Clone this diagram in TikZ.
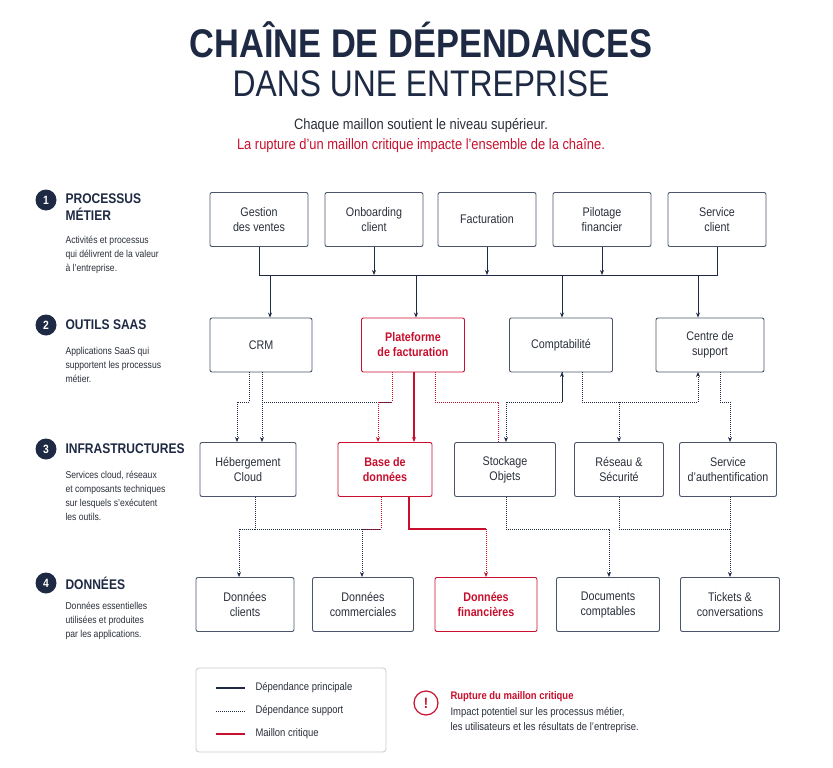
\documentclass[tikz,border=0pt]{standalone}
\usepackage{fontspec}
\setmainfont{Liberation Sans}[FakeStretch=0.86]
\usetikzlibrary{arrows.meta}
\definecolor{navy}{HTML}{1E2A44}
\definecolor{crit}{HTML}{C8102E}
\definecolor{txt}{HTML}{2A2F3A}
\begin{document}
\begin{tikzpicture}[x=1pt,y=-1pt,
 box/.style={draw=navy!80,line width=0.9pt,rounded corners=2pt,minimum width=98pt,minimum height=54pt,align=center,font=\fontsize{12.5}{15}\selectfont,text=txt},
 cbox/.style={box,draw=crit,text=crit,font=\fontsize{12.5}{15}\selectfont\bfseries},
 main/.style={draw=navy,line width=0.8pt},
 sup/.style={draw=navy,line width=1pt,densely dotted},
 csup/.style={draw=crit,line width=1pt,densely dotted},
 crl/.style={draw=crit,line width=1.3pt},
 arr/.style={-{Stealth[length=5pt,width=4pt]}},
 num/.style={circle,fill=navy,text=white,minimum size=21pt,inner sep=0pt,font=\fontsize{12}{12}\selectfont\bfseries},
 head/.style={anchor=west,text=navy,font=\fontsize{14}{17}\selectfont\bfseries,align=left},
 desc/.style={anchor=north west,text=txt,font=\fontsize{10}{14}\selectfont,align=left}]
\useasboundingbox (0,0) rectangle (833,768);
\fill[white] (0,0) rectangle (833,768);
% titles
\node[text=navy,font=\fontsize{40}{40}\selectfont\bfseries] (t1) at (421,40) {CHAÎNE DE DÉPENDANCES};
\node[text=navy,font=\fontsize{37}{37}\selectfont] (t2) at (421,84) {DANS UNE ENTREPRISE};
\node[text=txt,font=\fontsize{15}{15}\selectfont] (s1) at (421,126) {Chaque maillon soutient le niveau supérieur.};
\node[text=crit,font=\fontsize{15}{15}\selectfont] (s2) at (421,146) {La rupture d’un maillon critique impacte l’ensemble de la chaîne.};
% left column
\node[num] (n1) at (46,200) {1};
\node[head,anchor=north west] (h1) at (62,190) {PROCESSUS\\MÉTIER};
\node[desc] (d1) at (62,233) {Activités et processus\\qui délivrent de la valeur\\à l’entreprise.};
\node[num] (n2) at (46,325) {2};
\node[head] (h2) at (62,325) {OUTILS SAAS};
\node[desc] (d2) at (62,344) {Applications SaaS qui\\supportent les processus\\métier.};
\node[num] (n3) at (46,449) {3};
\node[head] (h3) at (62,449) {INFRASTRUCTURES};
\node[desc] (d3) at (62,468) {Services cloud, réseaux\\et composants techniques\\sur lesquels s’exécutent\\les outils.};
\node[num] (n4) at (46,583) {4};
\node[head] (h4) at (62,583) {DONNÉES};
\node[desc] (d4) at (62,599) {Données essentielles\\utilisées et produites\\par les applications.};
% row 1
\node[box] (gv) at (259,219.5) {Gestion\\des ventes};
\node[box] (ob) at (374,219.5) {Onboarding\\client};
\node[box] (fa) at (487,219.5) {Facturation};
\node[box] (pf) at (602,219.5) {Pilotage\\financier};
\node[box] (sc) at (717,219.5) {Service\\client};
% row 2
\node[box,minimum width=102pt] (crm) at (261,345) {CRM};
\node[cbox,minimum width=103pt] (pl) at (413,345) {Plateforme\\de facturation};
\node[box,minimum width=103pt] (co) at (561,345) {Comptabilité};
\node[box,minimum width=108pt] (cs) at (710,345) {Centre de\\support};
% row 3
\node[box,minimum width=96pt] (he) at (248,469.5) {Hébergement\\Cloud};
\node[cbox,minimum width=94pt] (bd) at (385,469.5) {Base de\\données};
\node[box,minimum width=101pt] (st) at (505,469.5) {Stockage\\Objets};
\node[box,minimum width=89pt] (re) at (619,469.5) {Réseau \&\\Sécurité};
\node[box,minimum width=97pt] (sa) at (728,469.5) {Service\\d’authentification};
% row 4
\node[box] (dc) at (245,604.5) {Données\\clients};
\node[box,minimum width=101pt] (dm) at (363,604.5) {Données\\commerciales};
\node[cbox,minimum width=102pt] (df) at (486,604.5) {Données\\financières};
\node[box,minimum width=103pt] (dd) at (608,604.5) {Documents\\comptables};
\node[box,minimum width=99pt] (tk) at (730,604.5) {Tickets \&\\conversations};
% bus row1 -> row2
\coordinate (bl) at (259,275); \coordinate (br) at (717,275);
\draw[main] (gv.south) |- (br) -- (sc.south);
\draw[main,arr] (ob.south) -- (ob.south|-bl);
\draw[main,arr] (fa.south) -- (fa.south|-bl);
\draw[main,arr] (pf.south) -- (pf.south|-bl);
\draw[main,arr] (270,275) -- (crm.north-|270,0);
\draw[main,arr] (416,275) -- (pl.north-|416,0);
\draw[main,arr] (562,275) -- (co.north-|562,0);
\draw[main,arr] (698,275) -- (cs.north-|698,0);
% row2 -> row3
\draw[sup,arr] (249,372) -- (249,402) -| (237,442);
\draw[sup,arr] (262,372) -- (262,442);
\draw[sup] (262,402) -- (392,402);
\draw[csup] (392,372) -- (392,402) -- (378,402);
\draw[csup,arr] (378,402) -- (378,442);
\draw[crl,arr] (pl.south-|414,0) -- (bd.north-|414,0);
\draw[csup] (435,372) -- (435,402) -| (498,442);
\draw[sup,arr] (562,402) -- (562,372);
\draw[sup,arr] (562,372) -- (562,402) -| (506,442);
\draw[sup] (582,372) -- (582,402) -- (698,402);
\draw[sup,arr] (698,402) -- (698,372);
\draw[sup,arr] (619,402) -- (619,442);
\draw[sup,arr] (720,372) -- (720,402) -| (730,442);
% row3 -> row4
\draw[sup,arr] (255,497) -- (255,529) -| (239,577);
\draw[sup] (255,529) -- (381,529);
\draw[csup] (381,497) -- (381,529) -- (362,529);
\draw[sup,arr] (362,529) -- (362,577);
\draw[crl] (409,497) -- (409,529) -- (486,529);
\draw[csup,arr] (486,529) -- (486,577);
\draw[sup,arr] (506,497) -- (506,529) -| (609,577);
\draw[sup] (619,497) -- (619,529) -- (730,529);
\draw[sup,arr] (730,497) -- (730,577);
% legend
\draw[draw=navy!25,line width=0.8pt,rounded corners=3pt] (196,668) rectangle (386,752);
\coordinate (l1a) at (216,688); \coordinate (l1b) at (245,688);
\draw[main,line width=1.2pt] (l1a) -- (l1b);
\coordinate (l2a) at (216,711); \coordinate (l2b) at (245,711);
\draw[sup] (l2a) -- (l2b);
\coordinate (l3a) at (216,734); \coordinate (l3b) at (245,734);
\draw[crl] (l3a) -- (l3b);
\node[anchor=west,text=txt,font=\fontsize{11}{11}\selectfont] (lt1) at (252,688) {Dépendance principale};
\node[anchor=west,text=txt,font=\fontsize{11}{11}\selectfont] (lt2) at (252,711) {Dépendance support};
\node[anchor=west,text=txt,font=\fontsize{11}{11}\selectfont] (lt3) at (252,734) {Maillon critique};
\node[circle,draw=crit,line width=1.2pt,minimum size=24pt,inner sep=0pt,text=crit,font=\fontsize{15}{15}\selectfont\bfseries] (al) at (426,703) {!};
\node[anchor=west,text=crit,font=\fontsize{11}{11}\selectfont\bfseries] (a1) at (447,697) {Rupture du maillon critique};
\node[anchor=north west,text=txt,font=\fontsize{11}{15}\selectfont,align=left] (a2) at (447,704) {Impact potentiel sur les processus métier,\\les utilisateurs et les résultats de l’entreprise.};
\end{tikzpicture}
\end{document}
